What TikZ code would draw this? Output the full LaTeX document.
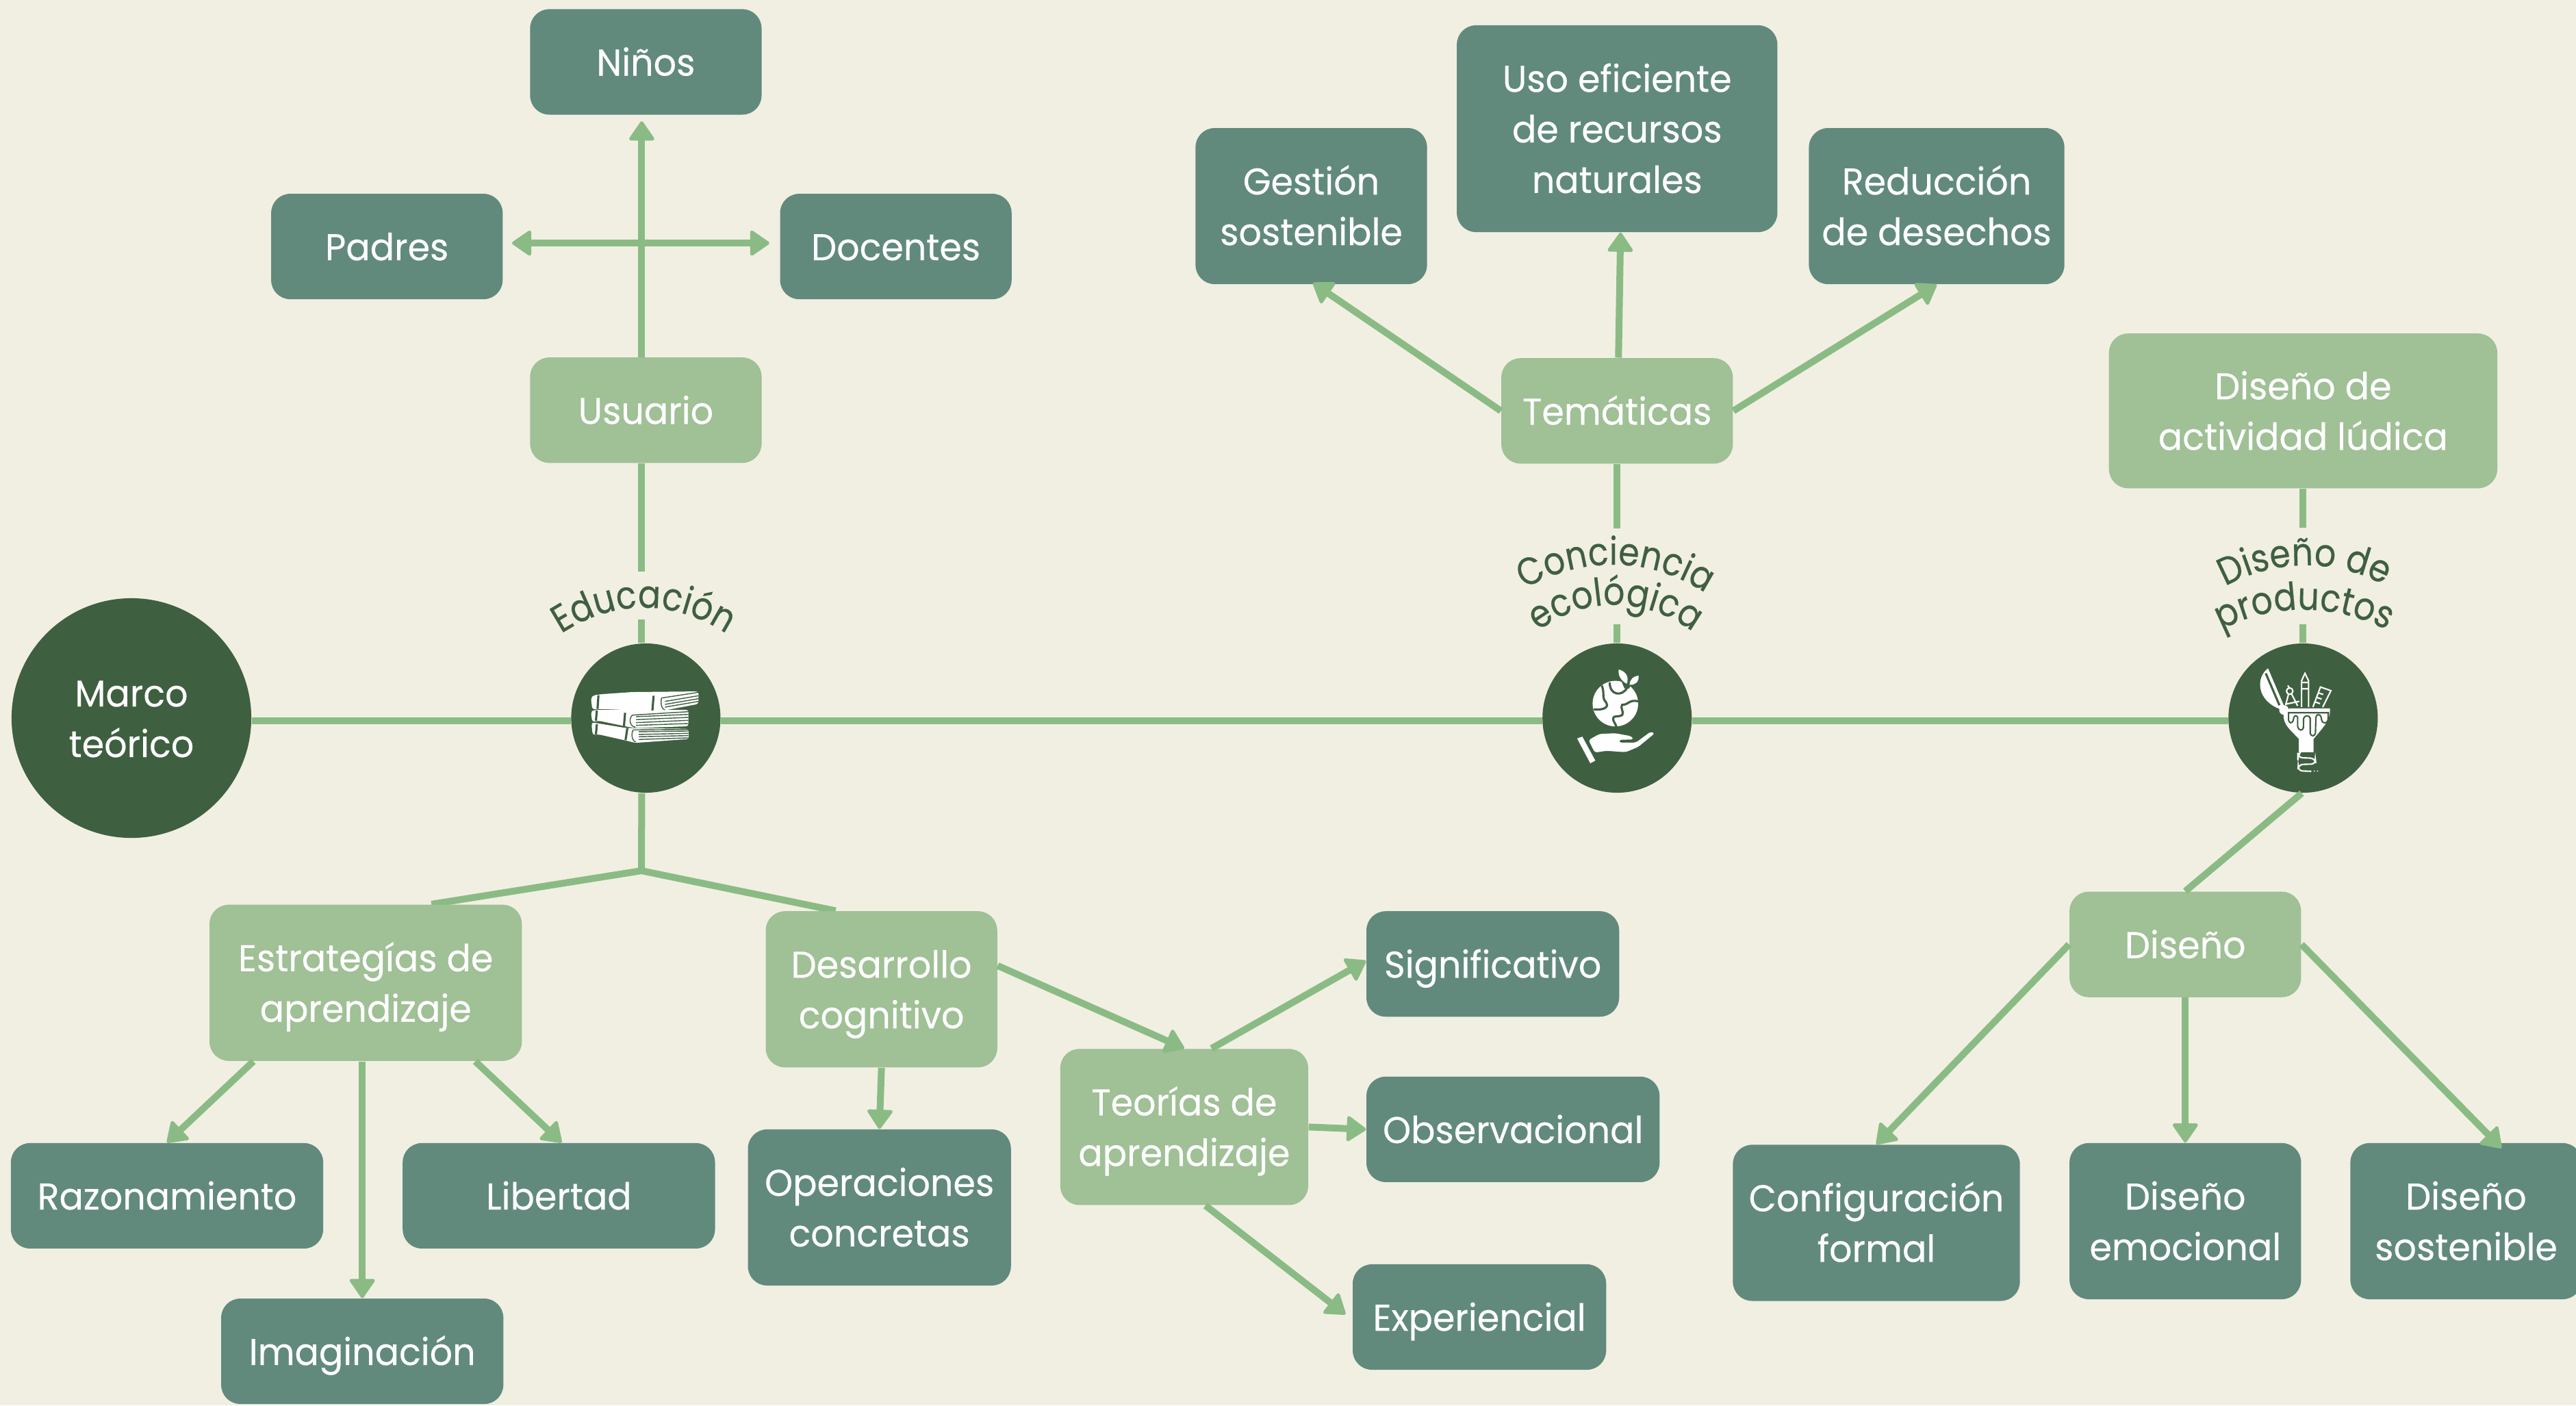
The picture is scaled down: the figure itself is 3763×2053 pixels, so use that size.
\documentclass[tikz,border=0pt]{standalone}
\usepackage{fontspec}
\setmainfont[FakeStretch=.96,FakeBold=.25]{Poppins}
\newfontfamily\curvafont[FakeStretch=.87,FakeBold=.3]{Poppins}
\usetikzlibrary{arrows.meta,decorations.text,backgrounds}
\definecolor{fondo}{HTML}{F1EFE2}
\definecolor{oscuro}{HTML}{618A7D}
\definecolor{claro}{HTML}{A0C096}
\definecolor{centro}{HTML}{3F5F41}
\definecolor{trazo}{HTML}{8BBB85}
\newcommand{\letracurva}{\curvafont\fontsize{16}{18}\selectfont}
\newcommand{\puntal}{\rule[-4.6pt]{0pt}{20.6pt}}
\tikzset{
  x=.01cm,y=-.01cm,
  caja/.style={rectangle,rounded corners=.28cm,text=white,align=center,inner sep=0pt,
    minimum width=3.38cm,minimum height=1.54cm,font=\fontsize{15.5}{21}\selectfont},
  oscura/.style={caja,fill=oscuro},
  clara/.style={caja,fill=claro},
  alta/.style={minimum height=2.28cm},
  eje/.style={circle,fill=centro,inner sep=0pt,minimum size=2.18cm},
  linea/.style={draw=trazo,line width=.1cm},
  flecha/.style={linea,>={Triangle[round,length=.3cm,width=.4cm,line width=1.4pt]},->},
  detalle/.style={draw=centro,line width=.9pt},
  fino/.style={draw=centro,line width=.4pt},
  blanco/.style={draw=white,line width=.6pt},
}
\begin{document}
\begin{tikzpicture}
\useasboundingbox (0,0) rectangle (3763,2053);
\node[eje,minimum size=3.5cm,text=white,align=center,font=\fontsize{15.5}{21}\selectfont](marco) at (192,1049){\puntal Marco\\teórico\puntal};
\node[eje,right of=marco,node distance=7.51cm](libros){};
\node[eje,right of=libros,node distance=14.18cm](globo){};
\node[eje,right of=globo,node distance=10.015cm](bombilla){};

\node[clara,above of=libros,node distance=4.495cm](usuario){\puntal Usuario};
\node[oscura,above of=usuario,node distance=5.085cm](ninos){\puntal Niños};
\node[oscura,above of=usuario,node distance=2.39cm,xshift=-3.78cm](padres){\puntal Padres};
\node[oscura,above of=usuario,node distance=2.39cm,xshift=3.65cm](docentes){\puntal Docentes};

\node[clara,above of=globo,node distance=4.485cm](tematicas){\puntal Temáticas};
\node[oscura,above of=tematicas,node distance=4.12cm,minimum width=4.68cm,minimum height=3.02cm](uso){\puntal Uso eficiente\\de recursos\\naturales\puntal};
\node[oscura,alta,above of=tematicas,node distance=2.99cm,xshift=-4.465cm](gestion){\puntal Gestión\\sostenible\puntal};
\node[oscura,alta,above of=tematicas,node distance=2.99cm,xshift=4.665cm,minimum width=3.73cm](reduccion){\puntal Reducción\\de desechos\puntal};

\node[clara,above of=bombilla,node distance=4.485cm,minimum width=5.67cm,minimum height=2.26cm](ludica){\puntal Diseño de\\actividad lúdica\puntal};
\node[clara,below of=bombilla,node distance=3.305cm,xshift=-1.72cm](diseno){\puntal Diseño};
\node[oscura,alta,below of=diseno,node distance=4.04cm](emocional){\puntal Diseño\\emocional\puntal};
\node[oscura,alta,below of=diseno,node distance=4.065cm,xshift=-4.51cm,minimum width=4.19cm](config){\puntal Configuración\\formal\puntal};
\node[oscura,alta,below of=diseno,node distance=4.04cm,xshift=4.10cm](sostenible){\puntal Diseño\\sostenible\puntal};

\node[clara,alta,below of=libros,node distance=3.865cm,xshift=-4.09cm,minimum width=4.56cm](estrategias){\puntal Estrategías de\\aprendizaje\puntal};
\node[clara,alta,below of=libros,node distance=3.96cm,xshift=3.44cm](desarrollo){\puntal Desarrollo\\cognitivo\puntal};
\node[oscura,below of=estrategias,node distance=3.11cm,xshift=-2.9cm,minimum width=4.56cm](razonamiento){\puntal Razonamiento};
\node[oscura,below of=estrategias,node distance=5.38cm,xshift=-.05cm,minimum width=4.12cm](imaginacion){\puntal Imaginación};
\node[oscura,below of=estrategias,node distance=3.11cm,xshift=2.82cm,minimum width=4.56cm](libertad){\puntal Libertad};
\node[oscura,alta,below of=desarrollo,node distance=3.185cm,xshift=-.03cm,minimum width=3.84cm](operaciones){\puntal Operaciones\\concretas\puntal};
\node[clara,alta,below of=desarrollo,node distance=2.01cm,xshift=4.42cm,minimum width=3.62cm](teorias){\puntal Teorías de\\aprendizaje\puntal};
\node[oscura,above of=teorias,node distance=2.38cm,xshift=4.505cm,minimum width=3.69cm](significativo){\puntal Significativo};
\node[oscura,below of=teorias,node distance=.035cm,xshift=4.80cm,minimum width=4.28cm](observacional){\puntal Observacional};
\node[oscura,below of=teorias,node distance=2.775cm,xshift=4.31cm,minimum width=3.70cm](experiencial){\puntal Experiencial};

\coordinate(ramal) at (937,1272);
\begin{scope}[on background layer]
\fill[fondo] (0,0) rectangle (3763,2053);
\draw[linea] (ramal) -- ([xshift=.96cm]estrategias.north);
\draw[linea] (ramal) -- ([xshift=-.67cm]desarrollo.north);
\end{scope}

\draw[linea] ([yshift=-.04cm]marco.east) -- ([yshift=-.04cm]libros.west);
\draw[linea] ([yshift=-.04cm]libros.east) -- ([yshift=-.04cm]globo.west);
\draw[linea] ([yshift=-.04cm]globo.east) -- ([yshift=-.04cm]bombilla.west);
\draw[linea] ([xshift=-.06cm]usuario.south) -- ([xshift=-.06cm,yshift=1.04cm]libros.north);
\draw[linea] ([xshift=-.06cm,yshift=.34cm]libros.north) -- ([xshift=-.06cm]libros.north);
\draw[linea] (tematicas.south) -- ([yshift=1.67cm]globo.north);
\draw[linea] ([yshift=.27cm]globo.north) -- (globo.north);
\draw[linea] (ludica.south) -- ([yshift=1.68cm]bombilla.north);
\draw[linea] ([yshift=.27cm]bombilla.north) -- (bombilla.north);
\draw[linea] ([xshift=-.06cm]libros.south) -- (ramal);
\draw[linea] ([xshift=-.02cm]bombilla.south) -- (diseno.north);

\draw[flecha] ([xshift=-.06cm]usuario.north) -- ([xshift=-.06cm,yshift=-.09cm]ninos.south);
\draw[flecha,<->] ([xshift=.13cm,yshift=.05cm]padres.east) -- ([xshift=-.15cm,yshift=.05cm]docentes.west);
\draw[flecha] (tematicas.west) -- ([xshift=.025cm,yshift=.025cm]gestion.south);
\draw[flecha] ([xshift=.02cm]tematicas.north) -- ([xshift=.05cm]uso.south);
\draw[flecha] (tematicas.east) -- (reduccion.south);
\draw[flecha] (diseno.west) -- (config.north);
\draw[flecha] (diseno.south) -- (emocional.north);
\draw[flecha] (diseno.east) -- ([xshift=.515cm,yshift=-.08cm]sostenible.north);
\draw[flecha] ([xshift=-1.64cm]estrategias.south) -- (razonamiento.north);
\draw[flecha] ([xshift=-.05cm]estrategias.south) -- (imaginacion.north);
\draw[flecha] ([xshift=1.6cm]estrategias.south) -- ([xshift=.04cm]libertad.north);
\draw[flecha] (desarrollo.south) -- (operaciones.north);
\draw[flecha] ([yshift=.345cm]desarrollo.east) -- (teorias.north);
\draw[flecha] ([xshift=.4cm]teorias.north) -- ([yshift=.045cm]significativo.west);
\draw[flecha] (teorias.east) -- (observacional.west);
\draw[flecha] ([xshift=.31cm]teorias.south) -- ([xshift=-.1cm,yshift=.04cm]experiencial.west);

\path[decorate,decoration={text along path,text align=center,text color=centro,text={|\letracurva|Educación}}]
  (815,929) .. controls (895,874) and (985,874) .. (1066,929);
\path[decorate,decoration={text along path,text align=center,text color=centro,text={|\letracurva|Conciencia}}]
  (2226,861) .. controls (2310,812) and (2410,812) .. (2492,867);
\path[decorate,decoration={text along path,text align=center,text color=centro,text={|\letracurva|ecológica}}]
  (2245,924) .. controls (2310,870) and (2405,870) .. (2475,925);
\path[decorate,decoration={text along path,text align=center,text color=centro,text={|\letracurva|Diseño de}}]
  (3245,860) .. controls (3320,815) and (3415,815) .. (3488,858);
\path[decorate,decoration={text along path,text align=center,text color=centro,text={|\letracurva|productos}}]
  (3240,923) .. controls (3315,880) and (3410,880) .. (3492,923);

\begin{scope}[shift={(780,820)},x=.00333cm,y=-.00333cm]
\fill[white,rounded corners=1pt] (250,600)--(262,588)--(300,583)--(430,574)--(722,571)--(722,626)--(575,654)--(530,657)--(285,648)--(256,650)--cycle;
\fill[white,rounded corners=1pt] (250,662)--(262,653)--(285,652)--(678,652)--(678,724)--(450,732)--(420,728)--(285,700)--(256,705)--cycle;
\fill[white,rounded corners=1pt] (252,712)--(262,708)--(285,712)--(405,732)--(678,735)--(680,780)--(445,797)--(405,787)--(285,760)--(258,762)--cycle;
\path[detalle] (283,588)--(279,648) (525,590)--(520,655) (276,655)--(272,700) (400,665)--(395,724) (276,715)--(272,760) (410,732)--(402,785);
\path[fino] (560,600) .. controls (555,625) and (560,650) .. (575,652) (560,600)--(722,575) (575,615)--(722,590) (575,628)--(722,603) (575,640)--(722,615);
\path[fino] (432,675) .. controls (415,690) and (420,725) .. (445,728) (432,675)--(678,660) (448,682)--(678,672) (448,695)--(678,685) (448,708)--(678,698) (448,720)--(678,712);
\path[fino] (436,740) .. controls (425,755) and (430,790) .. (447,792) (436,740)--(678,738) (460,748)--(678,745) (460,760)--(678,755) (460,770)--(678,765) (460,782)--(678,775);
\end{scope}

\begin{scope}[shift={(2180,760)},x=.00333cm,y=-.00333cm]
\fill[white] (540,805) circle[radius=100];
\path[detalle] (480,725) .. controls (495,760) and (478,780) .. (500,800) .. controls (510,815) and (500,835) .. (445,830);
\path[detalle] (515,712) .. controls (515,770) and (570,775) .. (592,735);
\path[detalle] (642,795) .. controls (600,785) and (600,810) .. (570,810) .. controls (560,830) and (580,840) .. (570,855) .. controls (560,865) and (530,855) .. (530,870) .. controls (530,885) and (540,890) .. (545,908);
\path[detalle,line width=2pt] (590,735) -- (600,715) (590,735) -- (575,700);
\fill[white] (555,655) .. controls (590,665) and (600,690) .. (590,718) .. controls (565,705) and (550,680) .. (555,655);
\fill[white] (642,682) .. controls (645,710) and (625,725) .. (602,722) .. controls (605,695) and (620,685) .. (642,682);
\fill[white,rounded corners=1pt] (422,965)--(470,938)--(540,935)--(610,948)--(620,962)--(556,964)--(556,976)--(630,976)--(695,928)--(713,935)--(640,995)--(585,1018)--(500,1012)--(450,1020)--cycle;
\fill[white] (372,958)--(395,950)--(452,1055)--(430,1067)--cycle;
\end{scope}

\begin{scope}[shift={(3180,760)},x=.00333cm,y=-.00333cm]
\fill[white] (400,650) .. controls (345,690) and (350,790) .. (450,828) -- (470,815) -- cycle;
\path[detalle] (390,672)--(450,812);
\fill[white] (470,833) circle[radius=21];
\path[blanco] (495,750) circle[radius=14] (487,725)--(493,737) (490,763)--(477,812) (503,762)--(530,815) (475,808)--(537,795);
\path[blanco] (547,820)--(547,705)--(562,672)--(578,705)--(578,820) (547,712)--(578,712) (547,740)--(578,740);
\path[blanco] (597,820)--(630,732)--(676,748)--(640,820) (622,758)--(642,765) (615,778)--(635,785) (608,798)--(628,805);
\fill[white] (495,826)--(672,826) .. controls (675,880) and (640,910) .. (600,960)--(600,1018)--(535,1018)--(535,960) .. controls (500,920) and (465,900) .. (468,850)--cycle;
\path[detalle,line width=.6pt] (490,845)--(665,845)--(663,875) .. controls (660,895) and (638,895) .. (635,875)--(632,862) .. controls (628,850) and (612,850) .. (610,865)--(608,935) .. controls (605,950) and (588,950) .. (585,935)--(585,868) .. controls (580,855) and (560,855) .. (556,870)--(555,912) .. controls (550,925) and (535,925) .. (530,905)--(530,865) .. controls (525,855) and (515,855) .. (512,870)--(510,880) .. controls (505,895) and (490,890) .. (490,875)--cycle;
\path[blanco,rounded corners=2pt] (540,1020)--(531,1032)--(531,1042)--(607,1045)--(610,1070)--(533,1072)--(531,1100)--(590,1102);
\fill[white] (603,1101) circle[radius=3] (617,1101) circle[radius=3];
\end{scope}
\end{tikzpicture}
\end{document}
